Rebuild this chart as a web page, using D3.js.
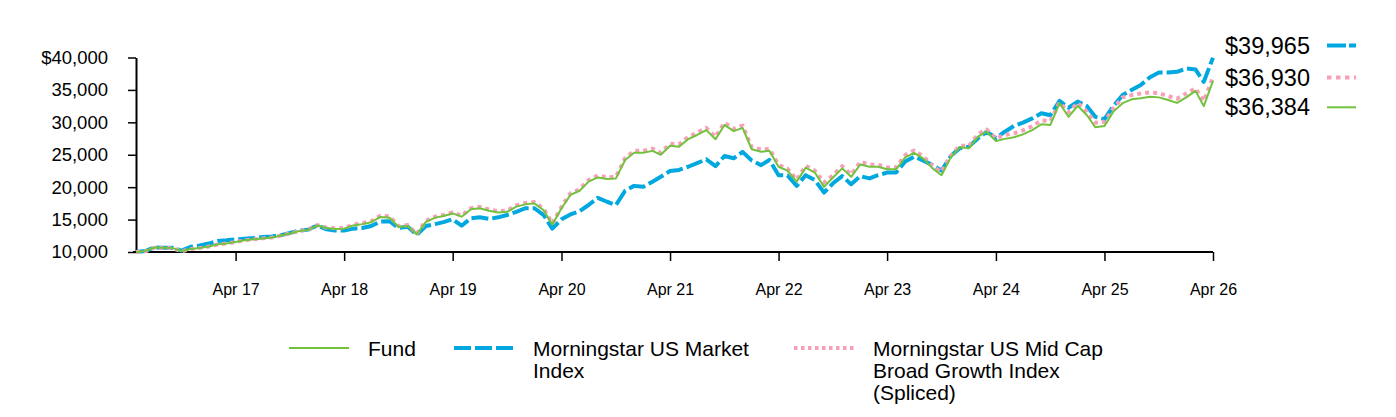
<!DOCTYPE html>
<html>
<head>
<meta charset="utf-8">
<script src="https://cdn.jsdelivr.net/npm/d3@7/dist/d3.min.js"></script>
<style>
	body { margin: 0; background: #fff; }
	text { font-family: 'Liberation Sans', Arial, sans-serif; fill: #000; }
	.axis path, .axis line { stroke: #000; }
</style>
</head>
<body>
<div id="js_chart"></div>
<script>
/*globals d3*/

// monthly values, May 2016 .. Apr 2026
const startMonth = new Date(2016, 4, 1);
const fundValues = [
	10000, 10150, 10700, 10650, 10600, 10150, 10450, 10600, 10850, 11200, 11300, 11550,
	11800, 11950, 12100, 12250, 12550, 12850, 13250, 13400, 14100, 13700, 13550, 13600,
	14100, 14300, 14600, 15400, 15300, 13850, 14000, 12700, 14650, 15300, 15550, 15950,
	15450, 16600, 16750, 16350, 16100, 16200, 17000, 17350, 17500, 16450, 14250, 16750,
	18800, 19450, 20850, 21500, 21250, 21350, 24200, 25300, 25300, 25600, 25000, 26400,
	26250, 27400, 28050, 28800, 27400, 29600, 28650, 29150, 25850, 25450, 25600, 23150,
	22550, 20850, 23000, 22250, 20050, 21500, 22900, 21600, 23500, 23150, 23150, 22750,
	22750, 24600, 25300, 24400, 22900, 21850, 24600, 26150, 26000, 27800, 28550, 27100,
	27450, 27700, 28150, 28800, 29700, 29600, 32950, 30850, 32550, 31100, 29250, 29450,
	31650, 32950, 33550, 33700, 33950, 33850, 33450, 33000, 33850, 34850, 32500, 36384
];
const marketValues = [
	10000, 10150, 10700, 10650, 10650, 10200, 10800, 11000, 11300, 11700, 11800, 11950,
	12050, 12150, 12300, 12400, 12600, 12950, 13300, 13450, 14100, 13500, 13300, 13300,
	13600, 13700, 14000, 14700, 14750, 13700, 13900, 12650, 14000, 14300, 14600, 15050,
	14050, 15200, 15350, 15100, 15350, 15700, 16200, 16750, 16750, 15700, 13600, 15050,
	15800, 16300, 17250, 18350, 17750, 17250, 19450, 20200, 20050, 20850, 21600, 22500,
	22650, 23150, 23700, 24300, 23250, 24800, 24450, 25450, 24100, 23400, 24200, 21850,
	21800, 20200, 21850, 21100, 19150, 20600, 21700, 20450, 21700, 21350, 21850, 22250,
	22250, 23950, 24700, 24100, 23400, 22550, 24800, 26000, 26250, 27550, 28550, 27550,
	28550, 29450, 29950, 30600, 31400, 31100, 33300, 32250, 33200, 32500, 30850, 30500,
	32500, 34200, 35000, 35750, 36950, 37700, 37700, 37800, 38300, 38150, 36250, 39965
];
const midCapValues = [
	10000, 10100, 10650, 10600, 10600, 10100, 10450, 10600, 10850, 11200, 11300, 11550,
	11800, 11950, 12100, 12250, 12550, 12850, 13250, 13450, 14150, 13750, 13650, 13700,
	14200, 14450, 14750, 15600, 15500, 14000, 14150, 12800, 14800, 15450, 15700, 16100,
	15600, 16750, 16950, 16550, 16300, 16400, 17200, 17550, 17700, 16650, 14400, 16950,
	19050, 19700, 21100, 21800, 21500, 21600, 24500, 25600, 25600, 25950, 25300, 26700,
	26600, 27750, 28400, 29150, 27750, 29950, 29000, 29500, 26150, 25800, 25900, 23450,
	22850, 21150, 23300, 22550, 20700, 21850, 23250, 21950, 23900, 23500, 23450, 23050,
	23050, 24950, 25650, 24750, 23250, 22350, 24850, 26400, 26350, 28200, 28900, 27500,
	28050, 28300, 28750, 29400, 30300, 30200, 33050, 31550, 33000, 31600, 29950, 30100,
	32150, 33850, 34200, 34450, 34600, 34500, 34050, 33650, 34450, 35250, 33300, 36930
];
const seriesNames = [
	['Fund'],
	['Morningstar US Market', 'Index'],
	['Morningstar US Mid Cap', 'Broad Growth Index', '(Spliced)']
];
const yTicks = [10000, 15000, 20000, 25000, 30000, 35000, 40000];
const xTickYears = [2017, 2018, 2019, 2020, 2021, 2022, 2023, 2024, 2025, 2026];

const colorFund = '#72c23e';
const colorMarket = '#00a8df';
const colorMidCap = '#f7a0b8';

const width = 1396;
const height = 417;
const plot = { left: 136, right: 1213, top: 57.5, bottom: 252 };

let svg = d3.select('#js_chart').append('svg')
	.attr('width', width)
	.attr('height', height);

const months = fundValues.map(function (d, i) { return d3.timeMonth.offset(startMonth, i); });

const x = d3.scaleTime()
	.domain([months[0], months[months.length - 1]])
	.range([plot.left, plot.right]);
const y = d3.scaleLinear()
	.domain([10000, 40000])
	.range([plot.bottom, plot.top]);

// axes
let yAxis = d3.axisLeft(y)
	.tickValues(yTicks)
	.tickSize(8).tickSizeOuter(0).tickPadding(20)
	.tickFormat(function (d) { return (d === 40000 ? '$' : '') + d3.format(',')(d); });
let gy = svg.append('g').attr('class', 'axis')
	.attr('transform', 'translate(' + plot.left + ',0)')
	.call(yAxis);
gy.selectAll('text').style('font-size', '18.5px');

let xAxis = d3.axisBottom(x)
	.tickValues(xTickYears.map(function (yr) { return new Date(yr, 3, 1); }))
	.tickSize(9).tickSizeOuter(0).tickPadding(23)
	.tickFormat(d3.timeFormat('%b %y'));
let gx = svg.append('g').attr('class', 'axis')
	.attr('transform', 'translate(0,' + plot.bottom + ')')
	.call(xAxis);
gx.selectAll('text').style('font-size', '16px');

svg.selectAll('.axis path').style('stroke-width', 2);
svg.selectAll('.axis line').style('stroke-width', 1.5);
// domain lines run a bit past the corner
gx.select('path').attr('d', 'M' + (plot.left - 3) + ',0H' + plot.right);

// series lines
function drawSeries(values, color, w, dash) {
	let line = d3.line()
		.x(function (d, i) { return x(months[i]); })
		.y(function (d) { return y(d); });
	svg.append('path')
		.datum(values)
		.attr('d', line)
		.style('fill', 'none')
		.style('stroke', color)
		.style('stroke-width', w)
		.style('stroke-dasharray', dash)
		.style('stroke-linejoin', 'round');
}
drawSeries(marketValues, colorMarket, 4, '17,4');
drawSeries(midCapValues, colorMidCap, 4, '4,4');
drawSeries(fundValues, colorFund, 2, null);

// end value labels
const endLabels = [
	{ v: marketValues[marketValues.length - 1], c: colorMarket, w: 4, dash: '19,3', yPos: 45.5 },
	{ v: midCapValues[midCapValues.length - 1], c: colorMidCap, w: 4, dash: '4.5,4.5', yPos: 77.5 },
	{ v: fundValues[fundValues.length - 1], c: colorFund, w: 2, dash: null, yPos: 107.3 }
];
endLabels.forEach(function (d) {
	svg.append('text')
		.attr('x', 1225)
		.attr('y', d.yPos + 8)
		.style('font-size', '23.5px')
		.text('$' + d3.format(',')(d.v));
	svg.append('line')
		.attr('x1', 1327).attr('x2', 1356)
		.attr('y1', d.yPos).attr('y2', d.yPos)
		.style('stroke', d.c)
		.style('stroke-width', d.w)
		.style('stroke-dasharray', d.dash);
});

// legend
const legendItems = [
	{ x: 289, c: colorFund, w: 2, dash: null },
	{ x: 454, c: colorMarket, w: 4, dash: '17,4' },
	{ x: 794, c: colorMidCap, w: 4, dash: '3.5,3.5' }
];
legendItems.forEach(function (d, i) {
	svg.append('line')
		.attr('x1', d.x).attr('x2', d.x + 60)
		.attr('y1', 348).attr('y2', 348)
		.style('stroke', d.c)
		.style('stroke-width', d.w)
		.style('stroke-dasharray', d.dash);
	let t = svg.append('text')
		.attr('x', d.x + 79)
		.attr('y', 356)
		.style('font-size', '21px');
	seriesNames[i].forEach(function (s, k) {
		t.append('tspan')
			.attr('x', d.x + 79)
			.attr('dy', k === 0 ? 0 : 22)
			.text(s);
	});
});
</script>
</body>
</html>
